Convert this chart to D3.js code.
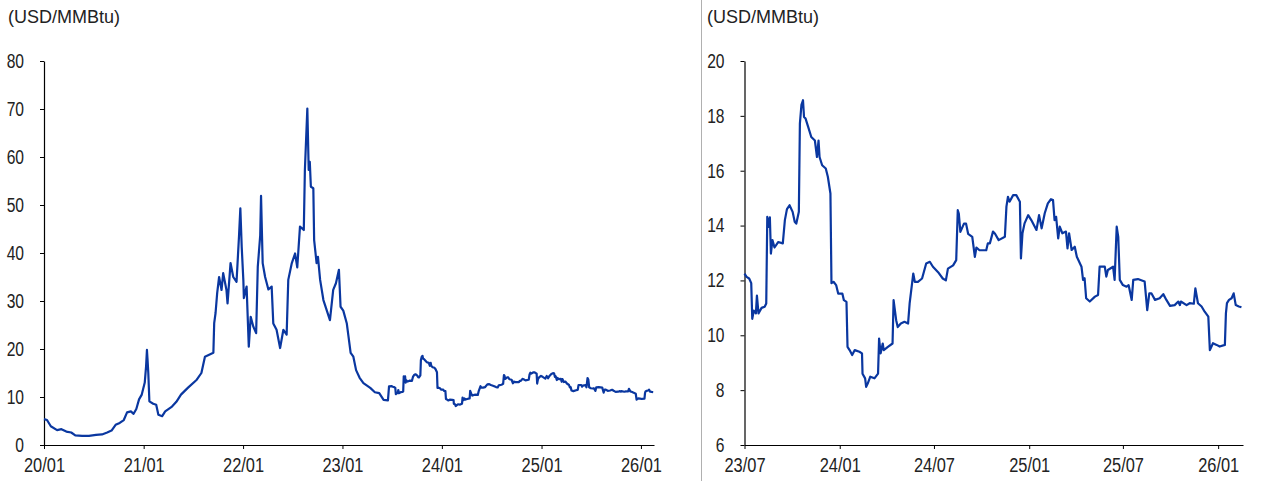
<!DOCTYPE html>
<html>
<head>
<meta charset="utf-8">
<script src="https://cdn.jsdelivr.net/npm/d3@7"></script>
<style>
  html, body { margin: 0; padding: 0; background: #fff; }
  svg { display: block; }
  .tick text, .ttl { fill: #222; }
</style>
</head>
<body>
<svg id="chart" width="1279" height="481"></svg>
<script>
// ---- data (USD/MMBtu) ----
const titleText = "(USD/MMBtu)";

// 2020-01 .. 2023-06
const earlyDates = [
  "2020-01-01","2020-01-12","2020-01-26","2020-02-18","2020-03-05","2020-03-23","2020-04-10","2020-04-25",
  "2020-05-20","2020-06-14","2020-07-10","2020-08-01","2020-08-20","2020-09-05","2020-09-20","2020-10-05",
  "2020-10-20","2020-11-01","2020-11-15","2020-11-25","2020-12-05","2020-12-15","2020-12-25","2021-01-05",
  "2021-01-10","2021-01-13","2021-01-15","2021-01-18","2021-01-22","2021-02-05","2021-02-16","2021-02-24",
  "2021-03-10","2021-03-21","2021-04-15","2021-05-01","2021-05-18","2021-06-12","2021-07-15","2021-08-01",
  "2021-08-14","2021-09-14","2021-09-17","2021-09-22","2021-09-28","2021-10-05","2021-10-14","2021-10-20",
  "2021-11-01","2021-11-05","2021-11-16","2021-11-26","2021-12-08","2021-12-17","2021-12-22","2021-12-27",
  "2022-01-02","2022-01-04","2022-01-14","2022-01-22","2022-01-29","2022-02-08","2022-02-18","2022-02-24",
  "2022-03-05","2022-03-08","2022-03-14","2022-03-23","2022-04-04","2022-04-16","2022-04-22","2022-05-04",
  "2022-05-17","2022-05-29","2022-06-10","2022-06-16","2022-06-29","2022-07-11","2022-07-19","2022-07-29",
  "2022-08-12","2022-08-16","2022-08-25","2022-08-30","2022-09-03","2022-09-07","2022-09-16","2022-09-19",
  "2022-09-28","2022-10-03","2022-10-11","2022-10-23","2022-11-04","2022-11-16","2022-11-28","2022-12-08",
  "2022-12-19","2022-12-25","2023-01-04","2023-01-17","2023-01-23","2023-01-31","2023-02-10","2023-02-20",
  "2023-03-05","2023-03-19","2023-04-13","2023-04-30","2023-05-16","2023-06-01","2023-06-17","2023-06-21"
];
const earlyValues = [
  5.4,5.2,3.9,3.1,3.3,2.8,2.6,2.0,
  1.9,1.9,2.1,2.2,2.6,3.0,4.2,4.6,
  5.2,6.8,7.0,6.5,7.5,9.5,10.5,13.0,
  16.5,19.8,18.0,15.0,9.1,8.6,8.4,6.3,
  6.0,7.0,8.0,9.0,10.5,11.9,13.6,15.0,
  18.4,19.2,25.4,27.5,31.7,35.0,32.3,35.8,
  32.3,29.5,37.9,35.0,34.0,43.4,49.3,41.3,
  34.4,30.6,33.0,20.5,26.7,24.6,23.3,37.1,
  43.7,51.9,37.9,35.0,32.4,33.0,25.3,24.0,
  20.2,24.0,23.0,34.4,37.9,39.9,37.0,45.5,
  44.8,57.3,70.1,57.3,59.0,53.8,53.5,42.7,
  37.9,39.2,34.4,30.2,28.1,26.0,32.3,33.7,
  36.5,28.8,28.0,25.3,22.7,19.2,18.4,15.6,
  14.0,12.9,11.9,11.0,10.8,9.4,9.3,12.2
];

// 2023-07 .. 2026-02
const recentDates = [
  "2023-07-01","2023-07-05","2023-07-10","2023-07-14","2023-07-16","2023-07-19","2023-07-23","2023-07-25",
  "2023-07-28","2023-08-03","2023-08-09","2023-08-12","2023-08-14","2023-08-17","2023-08-19","2023-08-21",
  "2023-08-24","2023-08-28","2023-09-04","2023-09-13","2023-09-17","2023-09-21","2023-09-26","2023-10-02",
  "2023-10-06","2023-10-09","2023-10-14","2023-10-16","2023-10-19","2023-10-22","2023-10-24","2023-10-27",
  "2023-11-01","2023-11-07","2023-11-14","2023-11-18","2023-11-21","2023-11-23","2023-11-28","2023-12-05",
  "2023-12-09","2023-12-14","2023-12-16","2023-12-20","2023-12-25","2023-12-29","2024-01-06","2024-01-09",
  "2024-01-14","2024-01-16","2024-01-20","2024-01-25","2024-01-30","2024-02-08","2024-02-13","2024-02-14",
  "2024-02-19","2024-02-21","2024-02-24","2024-02-29","2024-03-08","2024-03-15","2024-03-17","2024-03-20",
  "2024-03-24","2024-03-26","2024-04-03","2024-04-12","2024-04-14","2024-04-19","2024-04-22","2024-04-28",
  "2024-05-05","2024-05-12","2024-05-15","2024-05-22","2024-05-25","2024-05-31","2024-06-08","2024-06-16",
  "2024-06-23","2024-06-29","2024-07-09","2024-07-18","2024-07-24","2024-07-28","2024-08-07","2024-08-13",
  "2024-08-16","2024-08-18","2024-08-21","2024-08-28","2024-09-01","2024-09-05","2024-09-13","2024-09-18",
  "2024-09-21","2024-09-27","2024-10-10","2024-10-13","2024-10-17","2024-10-23","2024-10-27","2024-11-03",
  "2024-11-15","2024-11-18","2024-11-21","2024-11-24","2024-12-01","2024-12-07","2024-12-14","2024-12-16",
  "2024-12-19","2024-12-23","2024-12-30","2025-01-05","2025-01-15","2025-01-20","2025-01-25","2025-01-31",
  "2025-02-06","2025-02-12","2025-02-16","2025-02-19","2025-02-22","2025-02-26","2025-03-01","2025-03-06",
  "2025-03-13","2025-03-16","2025-03-19","2025-03-24","2025-03-30","2025-04-03","2025-04-12","2025-04-15",
  "2025-04-18","2025-04-21","2025-04-28","2025-05-08","2025-05-14","2025-05-17","2025-05-27","2025-05-30",
  "2025-06-02","2025-06-12","2025-06-15","2025-06-19","2025-06-22","2025-06-25","2025-07-01","2025-07-08",
  "2025-07-12","2025-07-18","2025-07-21","2025-07-30","2025-08-12","2025-08-17","2025-08-21","2025-08-25",
  "2025-09-01","2025-09-10","2025-09-17","2025-09-23","2025-09-30","2025-10-09","2025-10-16","2025-10-19",
  "2025-10-21","2025-11-01","2025-11-07","2025-11-15","2025-11-18","2025-11-23","2025-11-30","2025-12-06",
  "2025-12-13","2025-12-16","2025-12-22","2025-12-29","2026-01-04","2026-01-14","2026-01-16","2026-01-18",
  "2026-01-22","2026-01-27","2026-01-31","2026-02-04","2026-02-10","2026-02-15"
];
const recentValues = [
  12.25,12.13,12.07,11.9,10.6,10.9,10.8,11.45,
  10.8,11.0,11.04,11.16,14.32,13.95,14.3,12.98,
  13.47,13.2,13.4,13.35,14.2,14.6,14.74,14.5,
  14.14,14.07,14.5,17.72,18.4,18.57,17.96,17.9,
  17.6,17.23,17.1,16.5,17.1,16.5,16.2,16.08,
  15.78,15.17,11.9,11.95,11.83,11.52,11.52,11.28,
  11.22,9.58,9.46,9.28,9.46,9.4,9.34,8.6,
  8.43,8.12,8.24,8.49,8.43,8.6,9.88,9.34,
  9.7,9.46,9.58,9.7,11.28,10.55,10.3,10.43,
  10.49,10.43,11.16,12.25,11.95,11.95,12.07,12.62,
  12.68,12.5,12.3,12.07,12.0,12.43,12.55,12.74,
  14.56,14.44,13.77,14.07,14.07,13.7,13.59,12.86,
  13.2,13.1,13.1,13.35,13.35,13.78,13.7,13.47,
  13.59,14.69,15.05,14.87,15.11,15.11,14.87,12.8,
  13.72,14.08,14.38,14.2,13.84,14.38,13.9,14.45,
  14.81,14.96,14.93,14.2,14.32,13.53,13.96,13.72,
  13.78,13.17,13.72,13.11,13.23,12.86,12.5,12.02,
  12.08,11.35,11.23,11.41,11.47,12.5,12.5,12.14,
  12.38,12.5,12.02,13.96,13.59,12.02,11.83,11.77,
  11.83,11.29,12.02,12.05,11.96,10.92,11.53,11.53,
  11.29,11.35,11.5,11.29,11.07,11.1,11.23,11.1,
  11.23,11.1,11.17,11.15,11.71,11.17,11.05,10.86,
  10.68,9.46,9.71,9.65,9.59,9.65,10.8,11.17,
  11.29,11.35,11.53,11.1,11.05,11.02
];

const leftTicks = ["2020-01-01","2021-01-01","2022-01-01","2023-01-01","2024-01-01","2025-01-01","2026-01-01"];
const rightTicks = ["2023-07-01","2024-01-01","2024-07-01","2025-01-01","2025-07-01","2026-01-01"];
const leftYTicks = [0,10,20,30,40,50,60,70,80];
const rightYTicks = [6,8,10,12,14,16,18,20];

// ---- build ----
const parse = d3.utcParse("%Y-%m-%d");
const series = earlyDates.map((d,i)=>({date: parse(d), value: earlyValues[i]}))
  .concat(recentDates.map((d,i)=>({date: parse(d), value: recentValues[i]})));

const svg = d3.select("#chart");
const baseFont = "'Liberation Sans',Arial,Helvetica,sans-serif";
const lineColor = "#0a37a0";

// separator
svg.append("line").attr("x1",701.5).attr("x2",701.5).attr("y1",0).attr("y2",481)
  .attr("stroke","#b0b0b0").attr("stroke-width",1);

function condense(sel, k) {
  sel.each(function() {
    const w = this.getComputedTextLength();
    d3.select(this).attr("textLength", w * k).attr("lengthAdjust", "spacingAndGlyphs");
  });
}

function panel(opts) {
  const x = d3.scaleUtc().domain(opts.xDomain).range(opts.xRange);
  const y = d3.scaleLinear().domain(opts.yDomain).range([445, 61]);
  const g = svg.append("g");

  g.append("text").attr("class","ttl").attr("x",opts.titleX).attr("y",23)
    .style("font-family",baseFont).style("font-size","18px").text(titleText);

  const yAxis = d3.axisLeft(y).tickValues(opts.yTicks).tickSize(4).tickSizeOuter(0).tickPadding(16);
  const yg = g.append("g").attr("transform",`translate(${opts.xRange[0]},0)`).call(yAxis);
  const xAxis = d3.axisBottom(x).tickValues(opts.xTicks.map(parse)).tickFormat(d3.utcFormat("%y/%m"))
    .tickSize(4).tickSizeOuter(0).tickPadding(9);
  const xg = g.append("g").attr("transform","translate(0,445)").call(xAxis);

  [yg, xg].forEach(a => {
    a.attr("font-family", null).attr("font-size", null);
    a.select(".domain").attr("stroke","#000").attr("stroke-width",1.2);
    a.selectAll(".tick line").attr("stroke","#000").attr("stroke-width",1);
    a.selectAll(".tick text").style("font-family",baseFont).style("font-size","20px").attr("fill","#222");
  });
  condense(xg.selectAll(".tick text"), 0.82);
  condense(yg.selectAll(".tick text"), 0.78);

  const data = series.filter(d => d.date >= opts.xDomain[0]);
  const line = d3.line().x(d => x(d.date)).y(d => y(d.value));
  g.append("path").datum(data).attr("d",line).attr("fill","none")
    .attr("stroke",lineColor).attr("stroke-width",2.2).attr("stroke-linejoin","round");
}

panel({
  xDomain: [parse("2020-01-01"), parse("2026-02-18")], xRange: [44, 654],
  yDomain: [0, 80], yTicks: leftYTicks, xTicks: leftTicks, titleX: 8
});
panel({
  xDomain: [parse("2023-07-01"), parse("2026-02-18")], xRange: [744.5, 1243],
  yDomain: [6, 20], yTicks: rightYTicks, xTicks: rightTicks, titleX: 707
});
</script>
</body>
</html>
